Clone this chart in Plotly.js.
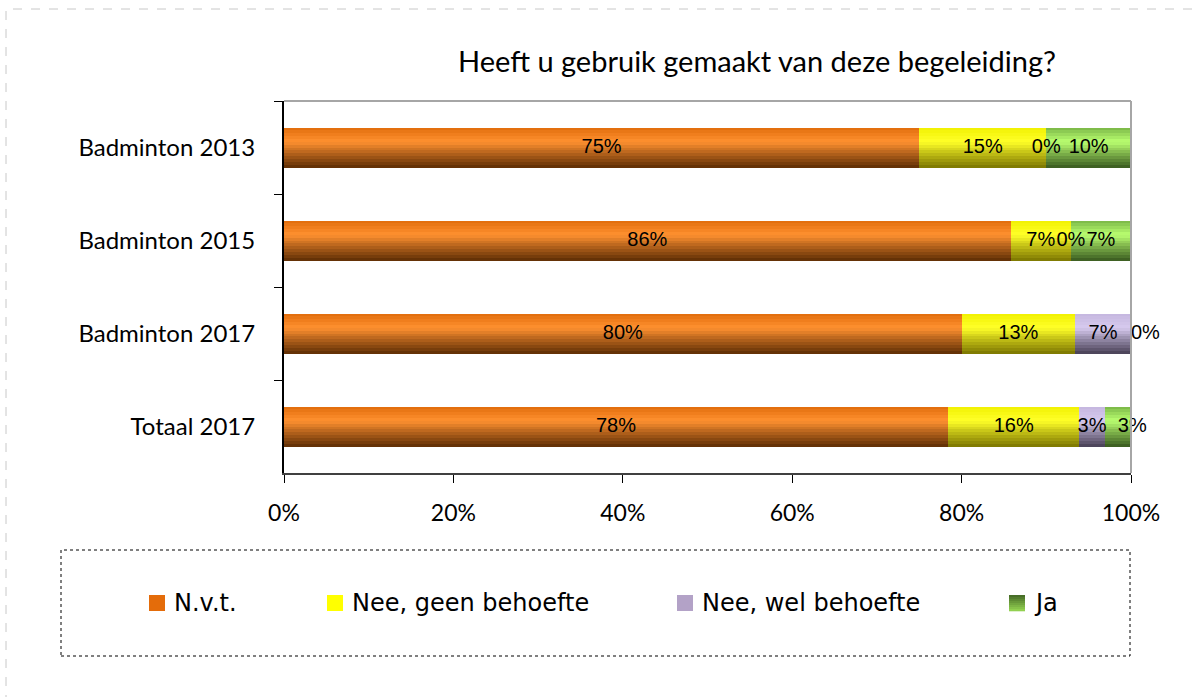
<!DOCTYPE html>
<html>
<head>
<meta charset="utf-8">
<script src="https://cdn.plot.ly/plotly-3.0.1.min.js"></script>
<style>
  html, body { margin: 0; padding: 0; background: #ffffff; }
  #chart { width: 1197px; height: 697px; }
</style>
</head>
<body>
<div id="chart"></div>
<script>
// ---- data ----
const categories = ["Badminton 2013", "Badminton 2015", "Badminton 2017", "Totaal 2017"];
const seriesNames = ["N.v.t.", "Nee, geen behoefte", "Nee, wel behoefte", "Ja"];
const nvt       = [75.0, 85.8, 80.0, 78.4];
const geen      = [15.0,  7.1, 13.4, 15.5];
const wel       = [ 0.0,  0.0,  6.6,  3.0];
const ja        = [10.0,  7.1,  0.0,  3.1];
const tickVals  = [0, 20, 40, 60, 80, 100];
const tickText  = ["0%", "20%", "40%", "60%", "80%", "100%"];

// ---- styling ----
const seriesValues = [nvt, geen, wel, ja];
// gradient stops (top, highlight, bottom) per series
const gradients = [
  [[224,107,10],[255,145,48],[92,44,4]],
  [[240,240,0],[255,255,40],[122,116,0]],
  [[196,182,222],[214,202,238],[70,62,84]],
  [[120,180,70],[186,255,112],[56,88,30]]
];
const legendColors = ["#E46C0A", "#FFFF00", "#B3A2C7", null];
const barWidth = 0.43;
const nStrips = 14;
const hiPos = 0.35;

function lerp(a, b, t) { return a.map((v, i) => Math.round(v + (b[i] - v) * t)); }
function rgb(c) { return "rgb(" + c.join(",") + ")"; }
function gradColor(stops, t) {
  let c;
  if (t <= hiPos) c = lerp(stops[0], stops[1], t / hiPos);
  else c = lerp(stops[1], stops[2], (t - hiPos) / (1 - hiPos));
  return rgb(c);
}

const traces = [];
const bases = categories.map(() => 0);
const cumBases = [];
seriesValues.forEach((vals, s) => {
  const b = bases.slice();
  cumBases.push(b);
  const sw = barWidth / nStrips;
  for (let k = 0; k < nStrips; k++) {
    const t = (k + 0.5) / nStrips;
    traces.push({
      type: "bar",
      orientation: "h",
      y: categories,
      x: vals,
      base: b,
      width: sw * 1.02,
      offset: -barWidth / 2 + k * sw,
      marker: { color: gradColor(gradients[s], t), line: { width: 0 } },
      name: seriesNames[s],
      showlegend: false,
      hoverinfo: "skip"
    });
  }
  vals.forEach((v, i) => { bases[i] += v; });
});

// value labels at the middle of each segment; a narrow last segment that
// follows another narrow one (or is empty) gets its label set to the right
const nS = seriesValues.length;
seriesValues.forEach((vals, s) => {
  traces.push({
    type: "scatter",
    mode: "text",
    y: categories,
    x: vals.map((v, i) => cumBases[s][i] + v / 2),
    text: vals.map(v => Math.round(v) + "%"),
    textposition: vals.map((v, i) => {
      if (s === nS - 1 && v < 5 && seriesValues[s - 1][i] < 5) return "middle right";
      if (s === nS - 1 && v === 0) return "middle right";
      return "middle center";
    }),
    textfont: { family: "Liberation Sans Narrow, Arial Narrow, sans-serif", size: 20, color: "#000000" },
    cliponaxis: false,
    showlegend: false,
    hoverinfo: "skip"
  });
});

// custom legend
const W = 1197, H = 697;
const legendX = [149, 327, 677, 1009];
const px2x = p => (p - 284) / 847;
const px2y = p => (473 - p) / 372;
const shapes = [
  // outer dashed border
  { type: "rect", xref: "paper", yref: "paper", x0: px2x(6), x1: px2x(1205),
    y0: px2y(705), y1: px2y(9), line: { color: "#C8C8C8", width: 1, dash: "dash" } },
  // legend box
  { type: "rect", xref: "paper", yref: "paper", x0: px2x(61), x1: px2x(1130),
    y0: px2y(656), y1: px2y(550), line: { color: "#000000", width: 1, dash: "dot" } },
  // top and right frame
  { type: "line", xref: "paper", yref: "paper", x0: 0, x1: 1, y0: 1, y1: 1, line: { color: "#A6A6A6", width: 2 } },
  { type: "line", xref: "paper", yref: "paper", x0: 1, x1: 1, y0: 0, y1: 1, line: { color: "#A6A6A6", width: 2 } }
];
const annotations = [];
seriesNames.forEach((n, s) => {
  const px = legendX[s];
  if (legendColors[s]) {
    shapes.push({ type: "rect", xref: "paper", yref: "paper",
      x0: px2x(px), x1: px2x(px + 16), y0: px2y(611), y1: px2y(595),
      fillcolor: legendColors[s], line: { width: 0 } });
  } else {
    // gradient swatch: dark at top, light at bottom
    const top = [72, 110, 40], bot = [146, 208, 80];
    const n = 8;
    for (let k = 0; k < n; k++) {
      shapes.push({ type: "rect", xref: "paper", yref: "paper",
        x0: px2x(px), x1: px2x(px + 16),
        y0: px2y(595 + (k + 1) * 16 / n + 0.3), y1: px2y(595 + k * 16 / n),
        fillcolor: rgb(lerp(top, bot, k / (n - 1))), line: { width: 0 } });
    }
  }
  annotations.push({ xref: "paper", yref: "paper", x: px2x(px + 23), y: px2y(603),
    xanchor: "left", yanchor: "middle", showarrow: false, text: n,
    font: { family: "DejaVu Sans, sans-serif", size: 24, color: "#000000" } });
});

const layout = {
  width: W, height: H,
  paper_bgcolor: "#ffffff", plot_bgcolor: "#ffffff",
  margin: { l: 284, r: 66, t: 101, b: 224 },
  barmode: "overlay",
  bargap: 0,
  showlegend: false,
  title: {
    text: "Heeft u gebruik gemaakt van deze begeleiding?",
    font: { family: "Lato, Carlito, sans-serif", size: 29, color: "#000000" },
    x: 757 / W, xanchor: "center", xref: "container",
    y: 1 - 62 / H, yanchor: "middle", yref: "container"
  },
  xaxis: {
    range: [0, 100], fixedrange: true,
    tickvals: tickVals, ticktext: tickText,
    ticks: "outside", ticklen: 8, tickwidth: 1, tickcolor: "#000000",
    showline: true, linecolor: "#404040", linewidth: 2,
    showgrid: false, zeroline: false,
    tickfont: { family: "Lato, Carlito, sans-serif", size: 23, color: "#000000" },
    ticklabelstandoff: 10
  },
  yaxis: {
    type: "category", autorange: "reversed",
    categoryorder: "array", categoryarray: categories,
    ticks: "outside", ticklen: 8, tickwidth: 1, tickcolor: "#000000",
    tickson: "boundaries",
    showline: true, linecolor: "#000000", linewidth: 2,
    showgrid: false, zeroline: false,
    tickfont: { family: "Lato, Carlito, sans-serif", size: 24, color: "#000000" },
    ticklabelstandoff: 22
  },
  shapes: shapes,
  annotations: annotations
};

Plotly.newPlot("chart", traces, layout, { staticPlot: true, displayModeBar: false });
</script>
</body>
</html>
